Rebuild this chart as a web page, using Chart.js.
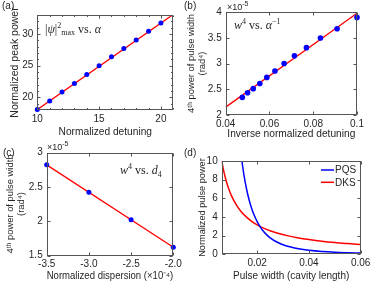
<!DOCTYPE html>
<html><head><meta charset="utf-8">
<script src="https://cdn.jsdelivr.net/npm/chart.js@4"></script>
<style>
html,body{margin:0;padding:0;background:#fff;}
#wrap{position:relative;width:374px;height:284px;overflow:hidden;background:#fff;}
canvas{position:absolute;left:0;top:0;}
</style></head><body>
<div id="wrap">
<canvas id="pa" width="374" height="284"></canvas>
<canvas id="pb" width="374" height="284"></canvas>
<canvas id="pc" width="374" height="284"></canvas>
<canvas id="pd" width="374" height="284"></canvas>
</div>
<script>
// ---- Panel (a): peak power vs detuning ----
const aDetuning = [10, 11, 12, 13, 14, 15, 16, 17, 18, 19, 20];
const aPeakPower = [18.06, 19.44, 20.84, 22.19, 23.59, 25.0, 26.39, 27.72, 29.06, 30.42, 31.72];
const aFitDetuning = [10, 21];
const aFitPower = [18.06, 33.09];
const aXTicks = [10, 15, 20];
const aYTicks = [20, 25, 30];

// ---- Panel (b): w^4 (x1e-5) vs inverse detuning ----
const bInvDetuning = [0.0476, 0.05, 0.0526, 0.0556, 0.0588, 0.0625, 0.0667, 0.0714, 0.0769, 0.0833, 0.0909, 0.1];
const bW4 = [2.34, 2.43, 2.51, 2.61, 2.73, 2.855, 3.0, 3.15, 3.31, 3.50, 3.68, 3.90];
const bFitInv = [0.04, 0.1];
const bFitW4 = [2.15, 3.98];
const bXTicks = [0.04, 0.06, 0.08, 0.1];
const bYTicks = [2, 2.5, 3, 3.5, 4];

// ---- Panel (c): w^4 (x1e-5) vs dispersion (x1e-4) ----
const cDispersion = [-3.5, -3.0, -2.5, -2.0];
const cW4 = [2.82, 2.42, 2.02, 1.62];
const cFitDisp = [-3.5, -2.0];
const cFitW4 = [2.82, 1.62];
const cXTicks = [-3.5, -3.0, -2.5, -2.0];
const cYTicks = [1.5, 2, 2.5, 3];

// ---- Panel (d): pulse power vs pulse width ----
const dPqsWidth = [0.0141, 0.015, 0.016, 0.017, 0.018, 0.019, 0.020, 0.021, 0.022, 0.024, 0.026, 0.028, 0.030, 0.033, 0.036, 0.040, 0.045, 0.050, 0.055, 0.060];
const dPqsPower = [10.0, 8.3, 6.85, 5.7, 4.8, 4.1, 3.5, 3.02, 2.6, 2.0, 1.57, 1.26, 1.02, 0.77, 0.59, 0.43, 0.30, 0.22, 0.17, 0.13];
const dDksWidth = [0.0063, 0.007, 0.008, 0.009, 0.010, 0.012, 0.014, 0.016, 0.018, 0.020, 0.022, 0.025, 0.028, 0.032, 0.036, 0.040, 0.045, 0.050, 0.055, 0.060];
const dDksPower = [10.0, 9.0, 7.9, 7.0, 6.3, 5.25, 4.5, 3.95, 3.5, 3.15, 2.86, 2.52, 2.25, 1.97, 1.75, 1.58, 1.40, 1.26, 1.15, 1.05];
const dXTicks = [0.02, 0.04, 0.06];
const dYTicks = [0, 2, 4, 6, 8, 10];
const dSeriesNames = ['PQS', 'DKS'];

const FONT = "'Liberation Sans', Arial, Helvetica, sans-serif";
const SERIF = "'Liberation Serif', 'Times New Roman', serif";
const TXT = '#262626';
const BLUE = '#0000ff';
const RED = '#ff0000';
Chart.defaults.font.family = FONT;
Chart.defaults.color = TXT;

const pts = (xs, ys) => xs.map((x, i) => ({x: x, y: ys[i]}));
const fixedTicks = vals => scale => { scale.ticks = vals.map(v => ({value: v})); };

function rich(ctx, x, y, segs, base) {
  let cx = x;
  segs.forEach(s => {
    const size = s.size || base;
    ctx.font = (s.italic ? 'italic ' : '') + size + 'px ' + (s.font || SERIF);
    ctx.fillText(s.t, cx, y + (s.dy || 0));
    cx += ctx.measureText(s.t).width;
  });
}

// Pins the plot area and axis boxes to the reference geometry
const pinArea = {
  id: 'pinArea',
  afterLayout(chart, args, o) {
    const g = o.geom;
    if (!g) return;
    const {x, y} = chart.scales;
    const ca = chart.chartArea;
    ca.left = g.L; ca.right = g.R; ca.top = g.T; ca.bottom = g.B;
    ca.width = g.R - g.L; ca.height = g.B - g.T;
    x.left = g.L; x.right = g.R; x.width = g.R - g.L;
    x.top = g.B; x.bottom = g.xBoxBottom; x.height = g.xBoxBottom - g.B;
    y.left = g.yBoxLeft; y.right = g.L; y.width = g.L - g.yBoxLeft;
    y.top = g.T; y.bottom = g.B; y.height = g.B - g.T;
    x.configure(); y.configure();
  }
};

const decor = {
  id: 'decor',
  afterDraw(chart, args, o) {
    const {ctx, chartArea: a, scales: {x, y}} = chart;
    ctx.save();
    const L = Math.round(a.left) + 0.5, R = Math.round(a.right) - 0.5;
    const T = Math.round(a.top) + 0.5, B = Math.round(a.bottom) - 0.5;
    ctx.strokeStyle = '#555';
    ctx.lineWidth = 1;
    const ln = (x1, y1, x2, y2) => { ctx.beginPath(); ctx.moveTo(x1, y1); ctx.lineTo(x2, y2); ctx.stroke(); };
    ctx.strokeRect(L, T, R - L, B - T);
    const xt = (vals, len) => vals.forEach(v => { const p = Math.round(x.getPixelForValue(v)) + 0.5; ln(p, B, p, B - len); ln(p, T, p, T + len); });
    const yt = (vals, len) => vals.forEach(v => { const p = Math.round(y.getPixelForValue(v)) + 0.5; ln(L, p, L + len, p); ln(R, p, R - len, p); });
    xt(x.ticks.map(t => t.value), 3);
    yt(y.ticks.map(t => t.value), 3);
    if (o.minorX) xt(o.minorX, 1.5);
    if (o.minorY) yt(o.minorY, 1.5);
    ctx.fillStyle = TXT;
    ctx.textAlign = 'left';
    ctx.textBaseline = 'middle';
    ctx.font = '10px ' + FONT;
    ctx.fillText(o.label, o.labelX, o.labelY);
    ctx.textBaseline = 'alphabetic';
    if (o.exp) {
      rich(ctx, o.exp.x, o.exp.y, [{t: '\u00d710', font: FONT}, {t: '-5', size: 7, dy: -4, font: FONT}], 9);
    }
    if (o.annot) rich(ctx, o.annot.x, o.annot.y, o.annot.segs, 12);
    if (o.legend) {
      o.legend.items.forEach((it, i) => {
        const yy = o.legend.y + i * o.legend.dy;
        ctx.strokeStyle = it.color; ctx.lineWidth = 1.5;
        ln(o.legend.x, yy, o.legend.x + 13, yy);
        ctx.textBaseline = 'middle';
        ctx.font = '10px ' + FONT;
        ctx.fillStyle = TXT;
        ctx.fillText(it.text, o.legend.x + 14, yy + 0.5);
      });
    }
    ctx.restore();
  }
};

function panel(id, o) {
  const lhY = o.yTitleSize * 1.2, lhX = o.xTitleSize * 1.2;
  const geom = {L: o.area.L, R: o.area.R, T: o.area.T, B: o.area.B,
                yBoxLeft: o.yTitleX - lhY / 2, xBoxBottom: o.xTitleY + lhX / 2};
  return new Chart(document.getElementById(id), {
    type: 'scatter',
    data: {datasets: o.datasets},
    options: {
      responsive: false, animation: false, events: [],
      layout: {padding: {left: geom.yBoxLeft, right: 374 - o.area.R, top: o.area.T, bottom: 284 - geom.xBoxBottom}},
      plugins: {legend: {display: false}, tooltip: {enabled: false}, decor: o.decor, pinArea: {geom: geom}},
      scales: {
        x: {
          type: 'linear', min: o.x.min, max: o.x.max,
          afterBuildTicks: fixedTicks(o.x.ticks),
          grid: {display: false, drawTicks: false}, border: {display: false},
          ticks: {padding: 3, color: TXT, font: {size: 10}, maxRotation: 0, autoSkip: false,
                  callback: o.x.fmt || (v => String(v))},
          title: {display: true, text: o.xTitle, color: TXT, font: {size: o.xTitleSize}, padding: 0}
        },
        y: {
          type: 'linear', min: o.y.min, max: o.y.max,
          afterBuildTicks: fixedTicks(o.y.ticks),
          grid: {display: false, drawTicks: false}, border: {display: false},
          ticks: {padding: 4, color: TXT, font: {size: 10}, autoSkip: false,
                  callback: o.y.fmt || (v => String(v))},
          title: {display: true, text: o.yTitle, color: TXT, font: {size: o.yTitleSize}, padding: 0}
        }
      }
    },
    plugins: [pinArea, decor]
  });
}

const dots = (xs, ys, r) => ({data: pts(xs, ys), showLine: false, clip: false, pointRadius: r, pointBackgroundColor: BLUE, pointBorderWidth: 0, pointStyle: 'circle'});
const fit = (xs, ys) => ({data: pts(xs, ys), showLine: true, pointRadius: 0, borderColor: RED, borderWidth: 1.3, fill: false});

panel('pa', {
  area: {L: 37.3, R: 173.3, T: 15, B: 110},
  yTitleX: 15, xTitleY: 132, yTitleSize: 10.5, xTitleSize: 10.2,
  x: {min: 10, max: 21, ticks: aXTicks},
  y: {min: 18, max: 33, ticks: aYTicks},
  xTitle: 'Normalized detuning', yTitle: 'Normalized peak power',
  datasets: [dots(aDetuning, aPeakPower, 2.5), fit(aFitDetuning, aFitPower)],
  decor: {label: '(a)', labelX: 2, labelY: 6,
    minorX: [11, 12, 13, 14, 16, 17, 18, 19, 21], minorY: [19, 21, 22, 23, 24, 26, 27, 28, 29, 31, 32],
    annot: {x: 45, y: 33, segs: [{t: '|'}, {t: '\u03c8', italic: true}, {t: '|'}, {t: '2', size: 8, dy: -5}, {t: 'max', size: 8, dy: 2}, {t: ' vs. '}, {t: '\u03b1', italic: true}]}}
});

panel('pb', {
  area: {L: 225.7, R: 357, T: 12.3, B: 114.8},
  yTitleX: 191, xTitleY: 134, yTitleSize: 9.4, xTitleSize: 10.2,
  x: {min: 0.04, max: 0.1, ticks: bXTicks},
  y: {min: 2, max: 4, ticks: bYTicks},
  xTitle: 'Inverse normalized detuning', yTitle: ['4\u1d57\u02b0 power of pulse width', '(rad\u2074)'],
  datasets: [dots(bInvDetuning, bW4, 2.8), fit(bFitInv, bFitW4)],
  decor: {label: '(b)', labelX: 184, labelY: 6, exp: {x: 227, y: 10},
    annot: {x: 234, y: 29, segs: [{t: 'w', italic: true}, {t: '4', size: 8, dy: -5}, {t: ' vs. '}, {t: '\u03b1', italic: true}, {t: '\u22121', size: 8, dy: -5}]}}
});

panel('pc', {
  area: {L: 46.7, R: 173.3, T: 152.5, B: 255.5},
  yTitleX: 10, xTitleY: 276, yTitleSize: 9.4, xTitleSize: 10.2,
  x: {min: -3.5, max: -2.0, ticks: cXTicks, fmt: v => v.toFixed(1)},
  y: {min: 1.5, max: 3, ticks: cYTicks},
  xTitle: 'Normalized dispersion (\u00d710\u207b\u2074)', yTitle: ['4\u1d57\u02b0 power of pulse width', '(rad\u2074)'],
  datasets: [dots(cDispersion, cW4, 2.5), fit(cFitDisp, cFitW4)],
  decor: {label: '(c)', labelX: 3, labelY: 153, exp: {x: 47, y: 150},
    annot: {x: 120, y: 174, segs: [{t: 'w', italic: true}, {t: '4', size: 8, dy: -5}, {t: ' vs. '}, {t: 'd', italic: true}, {t: '4', size: 8, dy: 3}]}}
});

panel('pd', {
  area: {L: 221.7, R: 360.7, T: 160.8, B: 254.3},
  yTitleX: 202, xTitleY: 276, yTitleSize: 9.2, xTitleSize: 10,
  x: {min: 0.0063, max: 0.06, ticks: dXTicks},
  y: {min: 0, max: 10, ticks: dYTicks},
  xTitle: 'Pulse width (cavity length)', yTitle: 'Normalized pulse power',
  datasets: [
    {label: dSeriesNames[0], data: pts(dPqsWidth, dPqsPower), showLine: true, pointRadius: 0, borderColor: BLUE, borderWidth: 1.5, cubicInterpolationMode: 'monotone'},
    {label: dSeriesNames[1], data: pts(dDksWidth, dDksPower), showLine: true, pointRadius: 0, borderColor: RED, borderWidth: 1.5, cubicInterpolationMode: 'monotone'}
  ],
  decor: {label: '(d)', labelX: 184, labelY: 153,
    legend: {x: 321, y: 170, dy: 12.3, items: [{text: dSeriesNames[0], color: BLUE}, {text: dSeriesNames[1], color: RED}]}}
});
</script>
</body></html>
